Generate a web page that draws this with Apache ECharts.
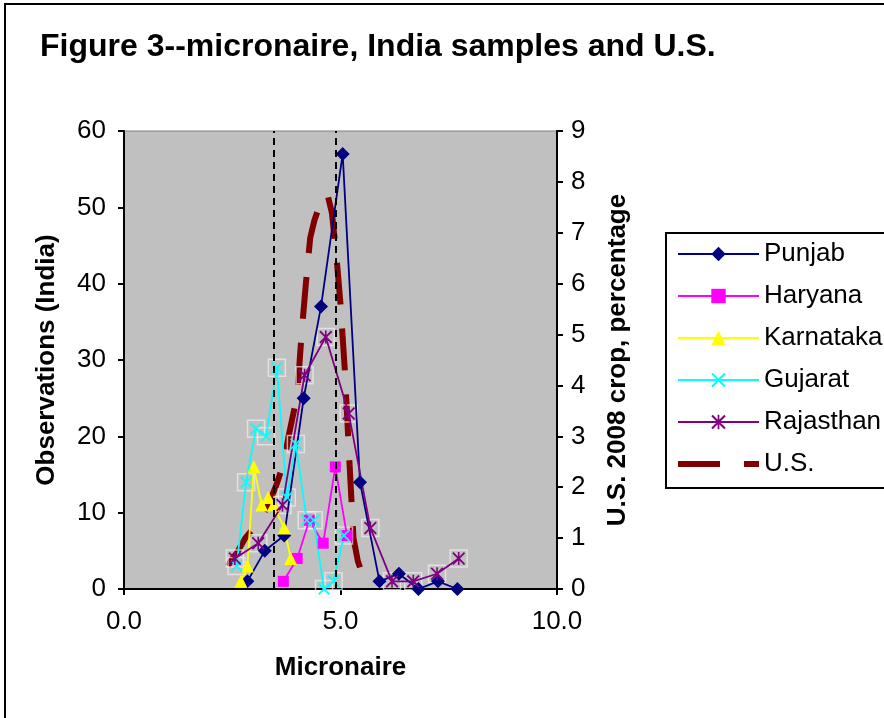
<!DOCTYPE html>
<html>
<head>
<meta charset="utf-8">
<script src="https://cdn.jsdelivr.net/npm/echarts@6/dist/echarts.min.js"></script>
<style>
  html, body { margin: 0; padding: 0; background: #fff; }
  #chart { width: 884px; height: 718px; }
</style>
</head>
<body>
<div id="chart"></div>
<script>
// India samples (observations, left axis)
const punjabX = [2.85, 3.25, 3.7, 4.15, 4.55, 5.05, 5.45, 5.9, 6.35, 6.8, 7.25, 7.7]
const punjabY = [1, 5, 7, 25, 37, 57, 14, 1, 2, 0, 1, 0]
const haryanaX = [3.68, 4.0, 4.28, 4.6, 4.88, 5.15]
const haryanaY = [1, 4, 9, 6, 16, 7]
const karnatakaX = [2.7, 2.85, 3.0, 3.18, 3.33, 3.45, 3.7, 3.85]
const karnatakaY = [1, 3, 16, 11, 12, 11, 8, 4]
const gujaratX = [2.6, 2.82, 3.05, 3.28, 3.53, 3.76, 3.97, 4.22, 4.38, 4.62, 4.84, 5.08]
const gujaratY = [3, 14, 21, 20, 29, 12, 19, 9, 9, 0, 1, 7]
const rajasthanX = [2.56, 3.1, 3.66, 4.17, 4.66, 5.19, 5.69, 6.19, 6.68, 7.23, 7.73]
const rajasthanY = [4, 6, 11, 28, 33, 23, 8, 1, 1, 2, 4]
// U.S. 2008 crop (percentage, right axis)
const usX = [2.4, 2.5, 2.6, 2.7, 2.8, 2.9, 3.0, 3.1, 3.2, 3.3, 3.4, 3.5, 3.6, 3.7, 3.8, 3.9,
  4.0, 4.1, 4.2, 4.3, 4.4, 4.5, 4.6, 4.7, 4.8, 4.9, 5.0, 5.1, 5.2, 5.3, 5.4, 5.5]
const usY = [0.45, 0.6, 0.7, 0.85, 1.0, 1.1, 1.2, 1.3, 1.45, 1.6, 1.8, 2.0, 2.25, 2.5, 3.0, 3.4,
  3.8, 5.0, 6.0, 6.9, 7.25, 7.5, 7.7, 7.75, 7.4, 6.6, 5.6, 4.3, 2.6, 1.0, 0.55, 0.3]
// vertical reference lines (micronaire)
const refLines = [3.45, 4.9]

const FONT = 'Liberation Sans, Arial, sans-serif'
const zip = (xs, ys) => xs.map((x, i) => [x, ys[i]])

// 自定义符号：X 和 星号
const xPath = 'path://M0,1 L1,0 L5,4 L9,0 L10,1 L6,5 L10,9 L9,10 L5,6 L1,10 L0,9 L4,5 Z'
const starPath = 'path://M0,1 L1,0 L5,4 L9,0 L10,1 L6,5 L10,9 L9,10 L5,6 L1,10 L0,9 L4,5 Z M4.4,0 L5.6,0 L5.6,10 L4.4,10 Z'
// 图例里的长虚线
const dashIcon = 'path://M0,0 L42,0 L42,6 L0,6 Z M66,0 L81,0 L81,6 L66,6 Z'

const lineSeries = (name, xs, ys, color, symbol, size) => ({
  name: name,
  type: 'line',
  yAxisIndex: 0,
  data: zip(xs, ys),
  symbol: symbol,
  symbolSize: size,
  lineStyle: { color: color, width: 1.8 },
  itemStyle: { color: color },
  z: 3,
  animation: false
})

// Excel 标记外的浅色方框
const boxSeries = (xs, ys) => ({
  type: 'scatter',
  yAxisIndex: 0,
  data: zip(xs, ys),
  symbol: 'rect',
  symbolSize: 17,
  itemStyle: { color: 'rgba(0,0,0,0)', borderColor: 'rgba(240,240,240,0.85)', borderWidth: 1.5 },
  z: 2,
  silent: true,
  animation: false
})

const chart = echarts.init(document.getElementById('chart'))

const option = {
  backgroundColor: '#ffffff',
  animation: false,
  title: {
    text: 'Figure 3--micronaire, India samples and U.S.',
    left: 35,
    top: 26,
    textStyle: { fontFamily: FONT, fontSize: 32, fontWeight: 'bold', color: '#000' }
  },
  graphic: [{
    type: 'rect',
    shape: { x: 5, y: 4, width: 900, height: 730 },
    style: { fill: 'none', stroke: '#000', lineWidth: 2 },
    silent: true
  }],
  grid: {
    left: 124,
    right: 327,
    top: 131,
    bottom: 129,
    show: true,
    backgroundColor: '#C0C0C0',
    borderColor: '#808080',
    borderWidth: 1
  },
  legend: {
    orient: 'vertical',
    left: 666,
    top: 233,
    data: ['Punjab', 'Haryana', 'Karnataka', 'Gujarat', 'Rajasthan', { name: 'U.S.', icon: dashIcon }],
    itemWidth: 81,
    itemHeight: 18,
    itemGap: 16,
    padding: [8, 30, 11, 11],
    borderColor: '#000',
    borderWidth: 2,
    textStyle: { fontFamily: FONT, fontSize: 26, color: '#000' }
  },
  xAxis: {
    type: 'value',
    min: 0,
    max: 10,
    interval: 5,
    name: 'Micronaire',
    nameLocation: 'middle',
    nameGap: 66,
    nameTextStyle: { fontFamily: FONT, fontSize: 26, fontWeight: 'bold', color: '#000' },
    axisLine: { onZero: false, lineStyle: { color: '#000', width: 2 } },
    axisTick: { length: 6, lineStyle: { color: '#000', width: 2 } },
    axisLabel: {
      margin: 20,
      formatter: v => v.toFixed(1),
      fontFamily: FONT, fontSize: 26, color: '#000'
    },
    splitLine: { show: false }
  },
  yAxis: [
    {
      type: 'value',
      position: 'left',
      min: 0,
      max: 60,
      interval: 10,
      name: 'Observations (India)',
      nameLocation: 'middle',
      nameRotate: 90,
      nameGap: 64,
      nameTextStyle: { fontFamily: FONT, fontSize: 26, fontWeight: 'bold', color: '#000' },
      axisLine: { show: true, lineStyle: { color: '#000', width: 2 } },
      axisTick: { show: true, length: 6, lineStyle: { color: '#000', width: 2 } },
      axisLabel: { margin: 18, fontFamily: FONT, fontSize: 26, color: '#000' },
      splitLine: { show: false }
    },
    {
      type: 'value',
      position: 'right',
      min: 0,
      max: 9,
      interval: 1,
      name: 'U.S. 2008 crop, percentage',
      nameLocation: 'middle',
      nameRotate: 90,
      nameGap: 48,
      nameTextStyle: { fontFamily: FONT, fontSize: 26, fontWeight: 'bold', color: '#000' },
      axisLine: { show: true, lineStyle: { color: '#000', width: 2 } },
      axisTick: { show: true, length: 6, lineStyle: { color: '#000', width: 2 } },
      axisLabel: { margin: 14, fontFamily: FONT, fontSize: 26, color: '#000' },
      splitLine: { show: false }
    }
  ],
  series: [
    {
      name: 'U.S.',
      type: 'line',
      yAxisIndex: 1,
      data: zip(usX, usY),
      showSymbol: false,
      symbol: 'none',
      lineStyle: { color: '#800000', width: 6, type: [42, 24] },
      itemStyle: { color: '#800000' },
      z: 1
    },
    lineSeries('Punjab', punjabX, punjabY, '#000080', 'diamond', 14),
    lineSeries('Haryana', haryanaX, haryanaY, '#FF00FF', 'rect', 11),
    lineSeries('Karnataka', karnatakaX, karnatakaY, '#FFFF00', 'triangle', 13),
    boxSeries(gujaratX, gujaratY),
    lineSeries('Gujarat', gujaratX, gujaratY, '#00FFFF', xPath, 12),
    boxSeries(rajasthanX, rajasthanY),
    lineSeries('Rajasthan', rajasthanX, rajasthanY, '#800080', starPath, 13),
    {
      // 竖直虚线
      type: 'line',
      data: [],
      z: 5,
      markLine: {
        silent: true,
        symbol: 'none',
        label: { show: false },
        lineStyle: { color: '#000', width: 2, type: [7, 5] },
        data: refLines.map(v => ({ xAxis: v }))
      }
    }
  ]
}
chart.setOption(option)
</script>
</body>
</html>
